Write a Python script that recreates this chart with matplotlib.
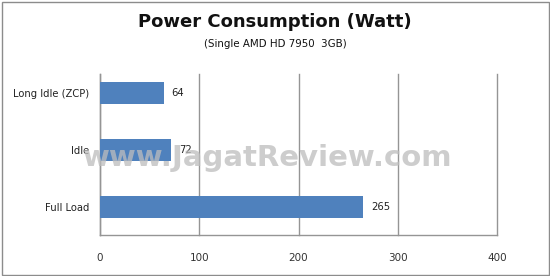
import matplotlib
matplotlib.use("Agg")
import matplotlib.pyplot as plt
from matplotlib.patches import Rectangle

# data
categories = ["Full Load", "Idle", "Long Idle (ZCP)"]
watts = [265, 72, 64]
x_ticks = [0, 100, 200, 300, 400]

bar_color = "#4F81BD"
grid_color = "#959595"
W, H = 550, 276

fig = plt.figure(figsize=(W / 100, H / 100), dpi=100)
fig.patch.set_facecolor("white")

# outer frame
fig.add_artist(Rectangle((1.5 / W, 1.5 / H), (W - 3) / W, (H - 3) / H,
                         transform=fig.transFigure, fill=False,
                         edgecolor="#8c8c8c", linewidth=1.0))

# axes: x 100..497 px, y 74..235 px (from top)
left, right, top, bottom = 100, 497, 74, 235
ax = fig.add_axes([left / W, 1 - bottom / H, (right - left) / W, (bottom - top) / H])

pos = list(range(len(categories)))
ax.barh(pos, watts, height=0.39, color=bar_color, zorder=3)
for p, v in zip(pos, watts):
    ax.text(v + 8, p, str(v), va="center", ha="left", fontsize=7.2, color="#222222", zorder=4)

ax.set_xlim(0, 400)
ax.set_ylim(-0.49, 2.33)
ax.set_xticks(x_ticks)
ax.set_xticklabels([str(t) for t in x_ticks], fontsize=7.5, color="#333333")
ax.set_yticks(pos)
ax.set_yticklabels(categories, fontsize=7.2, color="#222222")
ax.tick_params(axis="x", length=0, pad=13)
ax.tick_params(axis="y", length=0, pad=8)

ax.grid(axis="x", color=grid_color, linewidth=1.0, zorder=0)
for gl in ax.get_xgridlines():
    gl.set_clip_on(False)
for s in ["top", "right"]:
    ax.spines[s].set_visible(False)
for s in ["left", "bottom"]:
    ax.spines[s].set_color(grid_color)
    ax.spines[s].set_linewidth(1.0)

# titles
fig.text(0.5, 1 - 22 / H, "Power Consumption (Watt)", ha="center", va="center",
         fontsize=13, fontweight="bold", color="#111111")
fig.text(0.5, 1 - 44 / H, "(Single AMD HD 7950  3GB)", ha="center", va="center",
         fontsize=7.4, color="#111111")

# watermark
fig.text(268 / W, 1 - 158 / H, "www.JagatReview.com", ha="center", va="center",
         fontsize=21, fontweight="bold", color="#bdbdbd", alpha=0.75, zorder=10)

fig.savefig("out.png", dpi=100, facecolor="white")
